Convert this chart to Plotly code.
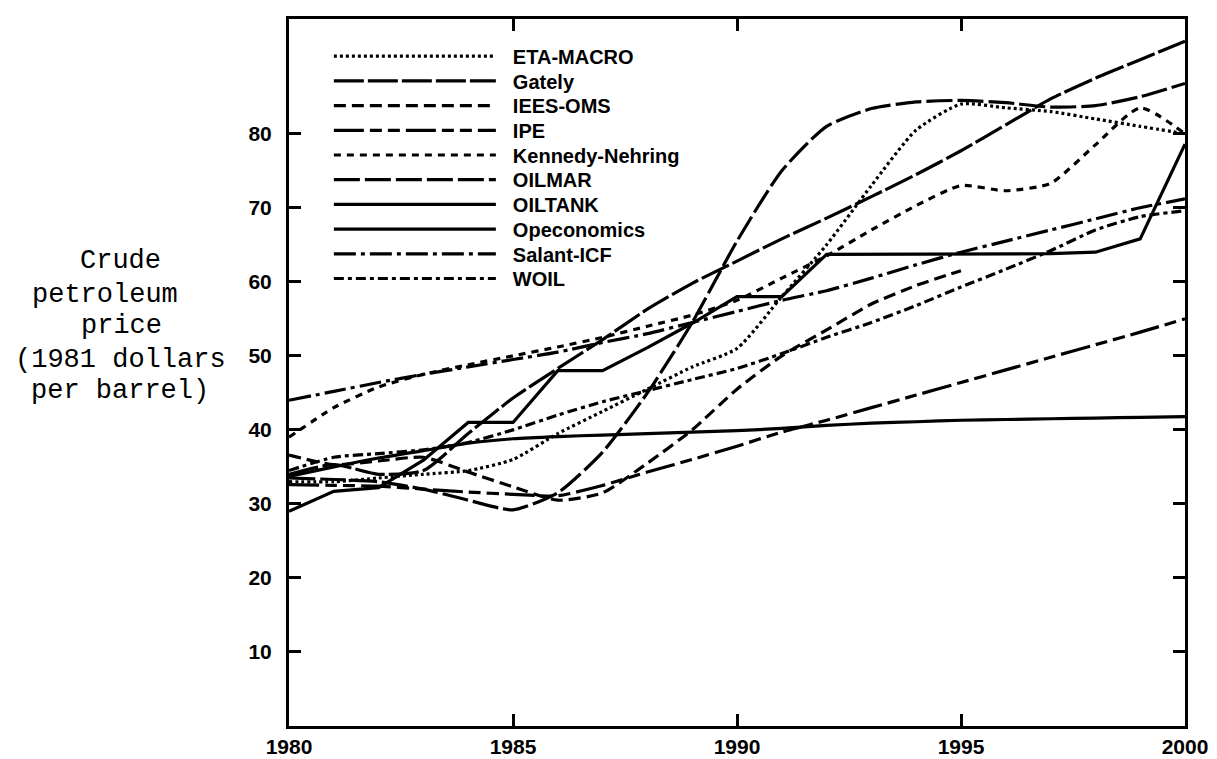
import plotly.graph_objects as go

years = list(range(1980, 2001))

eta_macro = [33, 33, 33.5, 34, 34.5, 36, 39.5, 42.5, 45.5, 48.5, 51, 58, 65, 73, 80.5, 84, 83.5, 83, 82, 81, 80]
gately = [34, 35.3, 34, 34.5, 39.5, 44.3, 48.3, 52.2, 56.3, 59.8, 62.8, 65.8, 68.6, 71.5, 74.5, 77.7, 81.2, 84.7, 87.5, 90, 92.5]
iees_oms = [36.6, 35.3, 35.8, 36.3, 34.3, 32.3, 30.5, 31.5, 35.5, 40, 45.5, 50, 53.5, 57, 59.5, 61.5, None, None, None, None, None]
ipe = [32.6, 32.5, 32.4, 32.0, 31.6, 31.3, 31.1, 32.5, 34.3, 36, 37.8, 39.7, 41.3, 43, 44.7, 46.4, 48.1, 49.8, 51.5, 53.2, 55]
kennedy_nehring = [39, 43, 45.8, 47.5, 48.8, 50, 51.2, 52.5, 54, 55.5, 57.5, 60.5, 63.5, 67, 70.3, 73, 72.3, 73.3, 78.5, 83.5, 80]
oilmar = [33.5, 33.3, 33, 32, 30.5, 29.2, 31.5, 37, 45, 54.5, 65.5, 75, 81, 83.4, 84.3, 84.5, 84.2, 83.6, 83.8, 85, 86.8]
oiltank = [33.7, 35, 36.2, 37.2, 38.2, 38.8, 39.1, 39.3, 39.5, 39.7, 39.9, 40.2, 40.6, 40.9, 41.1, 41.3, 41.4, 41.5, 41.6, 41.7, 41.8]
opeconomics = [29, 31.7, 32.2, 35.9, 41, 41, 48, 48, 51.1, 54.4, 58, 58, 63.7, 63.7, 63.7, 63.7, 63.7, 63.8, 64, 65.8, 78.6]
salant_icf = [44, 45.2, 46.4, 47.5, 48.5, 49.5, 50.5, 51.8, 53, 54.5, 56, 57.5, 58.8, 60.5, 62.3, 64, 65.5, 67, 68.5, 70, 71.2]
woil = [34.5, 36.3, 36.8, 37.3, 38.3, 40, 42, 43.8, 45.3, 46.8, 48.3, 50.3, 52.5, 54.5, 56.8, 59.3, 61.7, 64.2, 67, 68.8, 69.6]

series_names = ["ETA-MACRO", "Gately", "IEES-OMS", "IPE", "Kennedy-Nehring",
                "OILMAR", "OILTANK", "Opeconomics", "Salant-ICF", "WOIL"]
series_values = [eta_macro, gately, iees_oms, ipe, kennedy_nehring,
                 oilmar, oiltank, opeconomics, salant_icf, woil]
dash_styles = ["3px,3px", "30px,4px", "12px,6px", "30px,6px,12px,6px,12px,6px", "7px,6px",
               "26px,5px", "solid", "solid", "22px,5px,4px,5px", "10px,4px,4px,4px"]
shapes = ["spline", "spline", "spline", "spline", "spline",
          "spline", "spline", "linear", "spline", "spline"]

yaxis_ticks = [10, 20, 30, 40, 50, 60, 70, 80]
xaxis_ticks = [1980, 1985, 1990, 1995, 2000]

title_lines = ["Crude", "petroleum", "price", "(1981 dollars", "per barrel)"]

fig = go.Figure()
for name, vals, dash, shp in zip(series_names, series_values, dash_styles, shapes):
    fig.add_trace(go.Scatter(
        x=years, y=vals, name=name, mode="lines",
        line=dict(color="black", width=3.2, dash=dash, shape=shp, smoothing=0.6),
        connectgaps=False,
    ))

axis_common = dict(showline=True, linecolor="black", linewidth=3, mirror="ticks",
                   ticks="inside", ticklen=12, tickwidth=2.5, tickcolor="black",
                   showgrid=False, zeroline=False)

fig.update_xaxes(range=[1980, 2000], tickvals=xaxis_ticks,
                 ticktext=[str(v) for v in xaxis_ticks],
                 tickfont=dict(family="Liberation Sans, Arial, sans-serif", size=21,
                               color="black", weight=700), **axis_common)
fig.update_yaxes(range=[0, 95.5], tickvals=yaxis_ticks,
                 ticktext=[str(v) for v in yaxis_ticks], ticklabelstandoff=10,
                 tickfont=dict(family="Liberation Sans, Arial, sans-serif", size=21,
                               color="black", weight=700), **axis_common)

# y-axis title: one annotation per line, as in the typewritten original
title_x = [-0.1886, -0.2054, -0.1875, -0.1886, -0.1886]
title_y = [0.658, 0.610, 0.566, 0.518, 0.474]
for txt, tx, ty in zip(title_lines, title_x, title_y):
    fig.add_annotation(
        text=txt, xref="paper", yref="paper", x=tx, y=ty,
        xanchor="center", yanchor="middle", showarrow=False,
        font=dict(family="Liberation Mono, Courier New, monospace", size=27, color="black"),
    )

fig.update_layout(
    width=1217, height=759,
    margin=dict(l=281, r=40, t=8, b=41),
    paper_bgcolor="white", plot_bgcolor="white",
    showlegend=True,
    legend=dict(x=0.0445, y=0.975, xanchor="left", yanchor="top",
                bgcolor="rgba(0,0,0,0)", borderwidth=0, itemwidth=174,
                tracegroupgap=0,
                font=dict(family="Liberation Sans, Arial, sans-serif", size=20,
                          color="black", weight=700)),
)

post = """
var gd = document.getElementById('{plot_id}');
function fixLegend(){
  gd.querySelectorAll('.legendlines path').forEach(function(p){ p.setAttribute('d','M5,0h162'); });
  var items = gd.querySelectorAll('.legend .traces');
  var first = null;
  items.forEach(function(g, i){
    var t = g.getAttribute('transform') || '';
    var m = /translate\\(\\s*([-\\d.e]+)[\\s,]*([-\\d.e]+)?\\s*\\)/.exec(t);
    if (!m) return;
    if (first === null) first = [parseFloat(m[1]), parseFloat(m[2] || 0)];
    g.setAttribute('transform', 'translate(' + first[0] + ',' + (first[1] + i * 24.7) + ')');
  });
}
fixLegend();
gd.on('plotly_afterplot', fixLegend);
"""
fig.write_html("out.html", post_script=post)
